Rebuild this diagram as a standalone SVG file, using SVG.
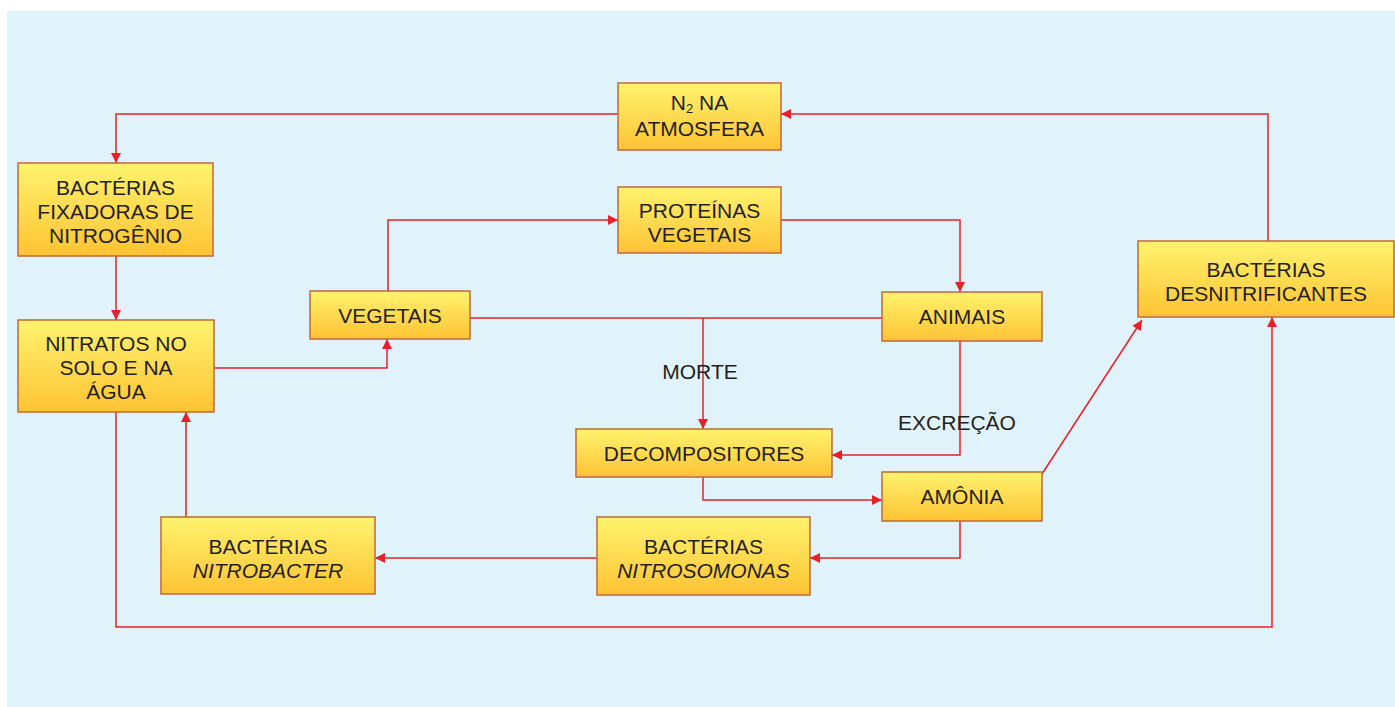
<svg xmlns="http://www.w3.org/2000/svg" width="1395" height="707" viewBox="0 0 1395 707">
  <defs>
    <linearGradient id="boxFill" x1="0" y1="0" x2="0" y2="1">
      <stop offset="0" stop-color="#fff36e"/>
      <stop offset="1" stop-color="#fec334"/>
    </linearGradient>
    <marker id="arrow" viewBox="0 0 10 10" refX="10" refY="5" markerWidth="11" markerHeight="10" markerUnits="userSpaceOnUse" orient="auto">
      <path d="M0,0 L10,5 L0,10 z" fill="#e8202a"/>
    </marker>
  </defs>
  <style>
    .box { fill: url(#boxFill); stroke: #c0693a; stroke-width: 1.5; }
    .lbl { font-family: "Liberation Sans", Arial, sans-serif; font-size: 21px; fill: #231f20; text-anchor: middle; }
    .edge { fill: none; stroke: #e8202a; stroke-width: 1.5; }
    .arr { marker-end: url(#arrow); }
  </style>

  <!-- panel background -->
  <rect x="7" y="11" width="1388" height="696" fill="#e0f2fa"/>

  <!-- connectors -->
  <g id="connectors">
    <path class="edge arr" d="M618,114 H116 V163"/>
    <path class="edge arr" d="M1268,241 V114 H781"/>
    <path class="edge arr" d="M116,256 V320"/>
    <path class="edge arr" d="M214,368 H387 V339"/>
    <path class="edge arr" d="M388,291 V220 H618"/>
    <path class="edge arr" d="M781,220 H960 V292"/>
    <path class="edge" d="M470,318 H882"/>
    <path class="edge arr" d="M703,318 V429"/>
    <path class="edge arr" d="M960,341 V455 H832"/>
    <path class="edge arr" d="M703,477 V500 H882"/>
    <path class="edge arr" d="M1042,474 L1142,320"/>
    <path class="edge arr" d="M960,521 V558 H810"/>
    <path class="edge arr" d="M597,558 H375"/>
    <path class="edge arr" d="M186,517 V412"/>
    <path class="edge arr" d="M116,412 V627 H1272 V317"/>
    <text class="lbl" x="700" y="379">MORTE</text>
    <text class="lbl" x="957" y="430">EXCREÇÃO</text>
  </g>

  <g id="n2">
    <rect class="box" x="618" y="83" width="163" height="67"/>
    <text class="lbl" x="699.5" y="110">N<tspan font-size="13" dy="3">2</tspan><tspan dy="-3"> NA</tspan></text>
    <text class="lbl" x="699.5" y="136">ATMOSFERA</text>
  </g>

  <g id="fixadoras">
    <rect class="box" x="18" y="163" width="195" height="93"/>
    <text class="lbl" x="115.5" y="195">BACTÉRIAS</text>
    <text class="lbl" x="115.5" y="219">FIXADORAS DE</text>
    <text class="lbl" x="115.5" y="243">NITROGÊNIO</text>
  </g>

  <g id="proteinas">
    <rect class="box" x="618" y="187" width="163" height="66"/>
    <text class="lbl" x="699.5" y="218">PROTEÍNAS</text>
    <text class="lbl" x="699.5" y="242">VEGETAIS</text>
  </g>

  <g id="vegetais">
    <rect class="box" x="310" y="291" width="160" height="48"/>
    <text class="lbl" x="390" y="323">VEGETAIS</text>
  </g>

  <g id="animais">
    <rect class="box" x="882" y="292" width="160" height="49"/>
    <text class="lbl" x="962" y="324">ANIMAIS</text>
  </g>

  <g id="nitratos">
    <rect class="box" x="18" y="320" width="196" height="92"/>
    <text class="lbl" x="116" y="351">NITRATOS NO</text>
    <text class="lbl" x="116" y="375">SOLO E NA</text>
    <text class="lbl" x="116" y="399">ÁGUA</text>
  </g>

  <g id="desnitrificantes">
    <rect class="box" x="1138" y="241" width="256" height="76"/>
    <text class="lbl" x="1266" y="277">BACTÉRIAS</text>
    <text class="lbl" x="1266" y="301">DESNITRIFICANTES</text>
  </g>

  <g id="decompositores">
    <rect class="box" x="576" y="429" width="256" height="48"/>
    <text class="lbl" x="704" y="461">DECOMPOSITORES</text>
  </g>

  <g id="amonia">
    <rect class="box" x="882" y="472" width="160" height="49"/>
    <text class="lbl" x="962" y="504">AMÔNIA</text>
  </g>

  <g id="nitrosomonas">
    <rect class="box" x="597" y="517" width="213" height="78"/>
    <text class="lbl" x="703.5" y="554">BACTÉRIAS</text>
    <text class="lbl" x="703.5" y="578" font-style="italic">NITROSOMONAS</text>
  </g>

  <g id="nitrobacter">
    <rect class="box" x="161" y="517" width="214" height="77"/>
    <text class="lbl" x="268" y="554">BACTÉRIAS</text>
    <text class="lbl" x="268" y="578" font-style="italic">NITROBACTER</text>
  </g>
</svg>
